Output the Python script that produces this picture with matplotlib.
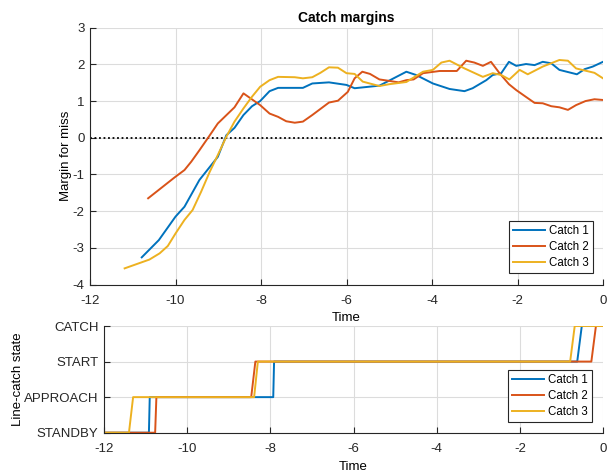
import matplotlib
matplotlib.use("Agg")
import matplotlib.pyplot as plt

plt.rcParams['font.family'] = ['Liberation Sans', 'DejaVu Sans']
plt.rcParams['axes.unicode_minus'] = False

colors = ['#0072BD', '#D95319', '#EDB120']
labels = ['Catch 1', 'Catch 2', 'Catch 3']

# ---- margin data ----
t1 = [-10.79, -10.39, -10.0, -9.79, -9.44, -9.01, -8.81, -8.62, -8.41, -8.21, -8.02, -7.8, -7.6,
      -7.02, -6.8, -6.41, -6.0, -5.81, -5.23, -4.6, -4.37, -3.98, -3.59, -3.24, -3.05, -2.73,
      -2.58, -2.38, -2.2, -2.03, -1.8, -1.6, -1.41, -1.21, -1.02, -0.61, -0.43, -0.24, 0.0]
m1 = [-3.26, -2.79, -2.15, -1.88, -1.15, -0.52, 0.07, 0.27, 0.62, 0.86, 1.0, 1.27, 1.36,
      1.36, 1.48, 1.51, 1.44, 1.35, 1.42, 1.8, 1.71, 1.48, 1.33, 1.27, 1.35, 1.57,
      1.71, 1.76, 2.07, 1.96, 2.01, 1.98, 2.07, 2.03, 1.85, 1.73, 1.87, 1.94, 2.07]

t2 = [-10.64, -10.02, -9.79, -9.63, -9.44, -9.22, -9.01, -8.62, -8.41, -8.02, -7.8, -7.6, -7.41,
      -7.21, -7.02, -6.8, -6.41, -6.2, -5.97, -5.81, -5.63, -5.45, -5.23, -5.0, -4.78, -4.6,
      -4.43, -4.21, -3.82, -3.42, -3.2, -3.01, -2.81, -2.62, -2.42, -2.2, -2.03, -1.81, -1.6,
      -1.41, -1.21, -1.02, -0.82, -0.63, -0.41, -0.2, 0.0]
m2 = [-1.65, -1.08, -0.88, -0.65, -0.34, 0.03, 0.39, 0.83, 1.21, 0.89, 0.66, 0.57, 0.45,
      0.41, 0.44, 0.62, 0.96, 1.01, 1.25, 1.62, 1.8, 1.74, 1.59, 1.55, 1.51, 1.57,
      1.59, 1.76, 1.82, 1.82, 2.1, 2.05, 1.96, 2.07, 1.76, 1.46, 1.3, 1.12, 0.95,
      0.94, 0.86, 0.83, 0.76, 0.89, 1.0, 1.05, 1.03]

t3 = [-11.19, -10.61, -10.37, -10.18, -10.0, -9.79, -9.6, -9.4, -9.2, -9.01, -8.81, -8.62, -8.41,
      -8.21, -8.02, -7.8, -7.6, -7.21, -7.02, -6.8, -6.61, -6.41, -6.2, -6.0, -5.81, -5.62,
      -5.23, -5.0, -4.6, -4.21, -3.98, -3.78, -3.59, -3.24, -2.81, -2.58, -2.38, -2.19, -1.95,
      -1.76, -1.41, -1.02, -0.82, -0.63, -0.2, 0.0]
m3 = [-3.56, -3.32, -3.15, -2.95, -2.61, -2.24, -1.97, -1.47, -0.93, -0.47, 0.03, 0.44, 0.8,
      1.12, 1.39, 1.57, 1.66, 1.65, 1.62, 1.65, 1.77, 1.92, 1.91, 1.76, 1.74, 1.53,
      1.41, 1.46, 1.52, 1.8, 1.85, 2.05, 2.1, 1.89, 1.66, 1.76, 1.71, 1.59, 1.85,
      1.73, 1.94, 2.12, 2.1, 1.89, 1.77, 1.62]

# ---- state data (0=STANDBY, 1=APPROACH, 2=START, 3=CATCH) ----
state_names = ['STANDBY', 'APPROACH', 'START', 'CATCH']
s_t1 = [-12.0, -10.92, -10.90, -7.93, -7.91, -0.62, -0.51, 0.0]
s_v1 = [0, 0, 1, 1, 2, 2, 3, 3]
s_t2 = [-12.0, -10.77, -10.74, -8.46, -8.36, -0.28, -0.17, 0.0]
s_v2 = [0, 0, 1, 1, 2, 2, 3, 3]
s_t3 = [-12.0, -11.40, -11.30, -8.39, -8.30, -0.79, -0.68, 0.0]
s_v3 = [0, 0, 1, 1, 2, 2, 3, 3]

xticks = [-12, -10, -8, -6, -4, -2, 0]

W, H = 608, 473
fig = plt.figure(figsize=(W / 100, H / 100), dpi=100)

def style(ax):
    ax.grid(True, color='#dcdcdc', linewidth=0.8)
    ax.set_axisbelow(True)
    for s in ['top', 'right']:
        ax.spines[s].set_visible(False)
    for s in ['left', 'bottom']:
        ax.spines[s].set_color('#262626')
        ax.spines[s].set_linewidth(0.8)
    ax.tick_params(direction='in', length=4, width=0.8, colors='#262626',
                   labelsize=9.5, labelcolor='#262626')
    ax.tick_params(axis='x', pad=7.5)
    ax.tick_params(axis='y', pad=4)

def legend(ax, anchor):
    leg = ax.legend(loc='lower right', bbox_to_anchor=anchor, fontsize=8.3,
                    frameon=True, fancybox=False, edgecolor='#262626', framealpha=1,
                    handlelength=2.8, handletextpad=0.3, borderpad=0.35, labelspacing=0.32,
                    borderaxespad=0)
    leg.get_frame().set_linewidth(0.8)
    return leg

ax1 = fig.add_axes([90 / W, 1 - 284.5 / H, 513 / W, (284.5 - 27.7) / H])
style(ax1)
ax1.axhline(0, color='black', linestyle=(0, (1, 1.5)), linewidth=1.3)
for t, m, c, l in zip([t1, t2, t3], [m1, m2, m3], colors, labels):
    ax1.plot(t, m, color=c, linewidth=1.4, label=l)
ax1.set_xlim(-12, 0)
ax1.set_ylim(-4, 3)
ax1.set_xticks(xticks)
ax1.set_yticks(range(-4, 4))
ax1.set_title('Catch margins', fontsize=10, fontweight='bold', pad=4)
ax1.set_xlabel('Time', fontsize=9.5, labelpad=4)
ax1.set_ylabel('Margin for miss', fontsize=9.5, labelpad=0)
legend(ax1, (0.98, 0.046))

ax2 = fig.add_axes([104 / W, 1 - 432.7 / H, 499 / W, (432.7 - 326) / H])
style(ax2)
for t, v, c, l in zip([s_t1, s_t2, s_t3], [s_v1, s_v2, s_v3], colors, labels):
    ax2.plot(t, v, color=c, linewidth=1.4, label=l)
ax2.set_xlim(-12, 0)
ax2.set_ylim(0, 3)
ax2.set_xticks(xticks)
ax2.set_yticks(range(4))
ax2.set_yticklabels(state_names)
ax2.set_xlabel('Time', fontsize=9.5, labelpad=4)
ax2.set_ylabel('Line-catch state', fontsize=9.5, labelpad=0)
legend(ax2, (0.977, 0.103))

fig.savefig('out.png', dpi=100)
